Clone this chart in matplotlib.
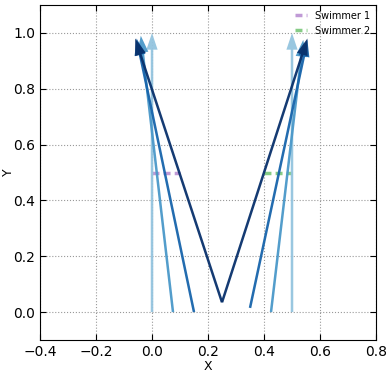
import matplotlib
matplotlib.use("Agg")
import matplotlib.pyplot as plt

# arrows: start points and displacements
x0 = [0.0, 0.075, 0.15, 0.25, 0.5, 0.425, 0.35, 0.25]
y0 = [0.0, 0.0, 0.0, 0.035, 0.0, 0.0, 0.015, 0.035]
dx = [0.0, -0.115, -0.205, -0.31, 0.0, 0.115, 0.205, 0.305]
dy = [1.0, 0.99, 0.98, 0.945, 1.0, 0.975, 0.96, 0.945]
shade = [0.4, 0.6, 0.8, 1.0, 0.4, 0.6, 0.8, 1.0]

# dotted swimmer markers
sw1_x = [0.0, 0.1]
sw1_y = [0.5, 0.5]
sw2_x = [0.4, 0.5]
sw2_y = [0.5, 0.5]

fig = plt.figure(figsize=(3.9, 3.74), dpi=100)
ax = fig.add_axes([0.1026, 0.0909, 0.8615, 0.8957])

for i in range(len(x0)):
    ax.arrow(x0[i], y0[i], dx[i], dy[i], width=0.009, head_width=0.04,
             head_length=0.06, length_includes_head=True,
             color=plt.cm.Blues(shade[i]), alpha=0.95, lw=0, zorder=3)

ax.plot(sw1_x, sw1_y, color='#c09ad6', lw=2.5, dashes=(2, 1.2),
        label='Swimmer 1', zorder=2)
ax.plot(sw2_x, sw2_y, color='#86cc86', lw=2.5, dashes=(2, 1.2),
        label='Swimmer 2', zorder=2)

ax.set_xlim(-0.4, 0.8)
ax.set_ylim(-0.1, 1.1)
ax.set_xlabel('X', fontsize=9, labelpad=1)
ax.set_ylabel('Y', fontsize=9)
ax.yaxis.set_label_coords(-0.075, 0.5)
ax.grid(True, linestyle=':', color='#999999', lw=0.8)
ax.tick_params(direction='in', labelsize=10, length=4, top=True, right=True)
ax.legend(loc='upper right', frameon=False, fontsize=7, handlelength=1.2,
          borderaxespad=0.2)

fig.savefig('out.png', dpi=100)
